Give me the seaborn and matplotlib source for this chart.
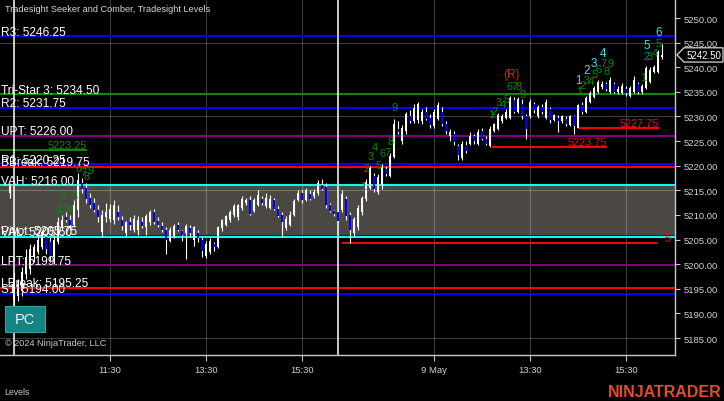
import matplotlib
matplotlib.use("Agg")
import matplotlib.pyplot as plt
import matplotlib.patches as mpatches
import matplotlib.transforms as mtransforms
import numpy as np
import pandas as pd
import seaborn as sns

# ---------------- data ----------------
first_bar = 2  # 5-minute bars, index 3 = 09:30 day 1, index 84 = 09:30 day 2
opens = [5214.5, 5192.75, 5193.5, 5194.5, 5198.0, 5199.0, 5201.5, 5202.5, 5203.5, 5205.5,
         5204.5, 5201.5, 5204.5, 5207.5, 5209.5, 5209.0, 5208.0, 5211.0, 5216.5, 5215.5,
         5213.5, 5212.5, 5211.0, 5206.5, 5209.5, 5209.25, 5209.0, 5210.5, 5209.0, 5206.25,
         5208.5, 5207.0, 5207.0, 5208.5, 5207.5, 5208.5, 5210.5, 5208.75, 5207.75, 5207.0,
         5204.75, 5205.5, 5208.0, 5206.75, 5206.25, 5207.25, 5205.0, 5206.25, 5205.0, 5201.75,
         5202.5, 5204.0, 5203.5, 5207.25, 5208.0, 5209.0, 5210.0, 5209.5, 5211.5, 5212.5,
         5213.0, 5210.75, 5212.0, 5213.25, 5211.75, 5211.5, 5213.0, 5211.25, 5210.0, 5207.25,
         5208.0, 5210.0, 5213.0, 5214.5, 5213.0, 5214.25, 5213.75, 5214.5, 5216.0, 5215.75,
         5212.0, 5210.75, 5210.5, 5211.0, 5213.25, 5210.0, 5206.25, 5207.5, 5210.5, 5213.25,
         5215.5, 5218.0, 5214.75, 5216.0, 5219.25, 5218.0, 5221.75, 5227.5, 5225.0, 5227.0,
         5230.0, 5229.0, 5229.25, 5229.0, 5231.0, 5229.75, 5228.0, 5229.5, 5231.0, 5228.5,
         5226.0, 5226.5, 5224.0, 5221.5, 5224.25, 5224.5, 5226.0, 5224.5, 5227.0, 5225.5,
         5224.0, 5227.0, 5227.5, 5229.0, 5229.75, 5229.75, 5233.25, 5231.0, 5232.5, 5230.0,
         5230.0, 5232.5, 5230.0, 5232.0, 5229.75, 5231.5, 5229.25, 5229.75, 5229.0, 5229.5,
         5228.25, 5230.0, 5227.75, 5232.25, 5231.0, 5233.0, 5234.0, 5235.0, 5236.0, 5236.5,
         5235.0, 5236.5, 5235.0, 5234.75, 5235.5, 5234.25, 5235.0, 5236.5, 5235.0, 5235.75,
         5237.0, 5239.0, 5239.0, 5242.0]
highs = [5216.5, 5198.5, 5197.0, 5199.5, 5203.0, 5204.0, 5204.0, 5206.0, 5207.0, 5206.0,
         5205.5, 5206.0, 5209.5, 5210.0, 5210.5, 5210.0, 5213.0, 5218.5, 5217.5, 5216.5,
         5214.5, 5213.5, 5212.0, 5211.0, 5212.5, 5212.25, 5213.0, 5212.0, 5209.75, 5208.75,
         5209.5, 5210.0, 5209.75, 5209.5, 5210.25, 5211.0, 5211.25, 5209.5, 5208.5, 5207.5,
         5207.5, 5208.25, 5208.5, 5207.0, 5208.25, 5208.0, 5207.75, 5207.0, 5205.5, 5204.75,
         5205.25, 5204.5, 5207.75, 5209.25, 5210.0, 5211.0, 5212.25, 5212.25, 5213.75, 5213.5,
         5213.75, 5213.5, 5215.0, 5213.75, 5214.5, 5214.0, 5213.5, 5211.75, 5210.5, 5209.75,
         5210.75, 5213.25, 5215.0, 5215.0, 5215.5, 5215.0, 5215.25, 5217.0, 5217.25, 5216.5,
         5212.5, 5211.0, 5211.0, 5215.0, 5213.75, 5210.5, 5209.5, 5212.0, 5213.75, 5217.25,
         5220.0, 5218.5, 5218.25, 5220.25, 5220.0, 5222.5, 5229.5, 5229.0, 5228.25, 5231.0,
         5231.25, 5232.5, 5233.0, 5231.5, 5232.0, 5230.5, 5231.5, 5233.0, 5232.0, 5229.0,
         5227.5, 5227.0, 5224.5, 5225.0, 5225.0, 5226.75, 5226.5, 5227.5, 5227.75, 5226.0,
         5228.0, 5228.75, 5230.75, 5230.5, 5231.5, 5234.25, 5234.0, 5234.0, 5233.5, 5230.5,
         5233.5, 5233.0, 5232.25, 5232.5, 5233.5, 5232.0, 5230.5, 5230.25, 5230.25, 5230.0,
         5230.25, 5230.25, 5232.5, 5233.0, 5234.25, 5235.25, 5236.25, 5237.5, 5237.25, 5237.0,
         5238.0, 5237.0, 5236.25, 5236.75, 5236.25, 5236.25, 5238.25, 5237.0, 5236.5, 5240.25,
         5240.0, 5240.5, 5243.5, 5244.75]
lows = [5213.5, 5191.5, 5192.5, 5193.5, 5197.0, 5198.0, 5200.5, 5202.0, 5203.0, 5202.0,
        5200.5, 5200.0, 5204.0, 5207.0, 5208.5, 5207.0, 5207.5, 5209.5, 5214.5, 5212.5,
        5211.5, 5210.5, 5208.5, 5205.5, 5208.5, 5208.5, 5208.25, 5209.0, 5207.0, 5205.75,
        5207.0, 5206.5, 5206.0, 5207.25, 5206.0, 5208.0, 5208.25, 5207.5, 5206.5, 5202.0,
        5204.5, 5205.25, 5206.75, 5204.75, 5201.0, 5205.5, 5203.75, 5204.5, 5201.5, 5201.25,
        5202.0, 5202.75, 5203.25, 5206.75, 5207.75, 5208.5, 5209.5, 5209.0, 5211.0, 5212.0,
        5210.0, 5210.5, 5211.75, 5212.0, 5211.5, 5211.25, 5211.0, 5209.5, 5205.5, 5207.0,
        5207.75, 5209.75, 5212.75, 5212.5, 5212.75, 5213.0, 5213.5, 5214.0, 5215.0, 5211.5,
        5210.5, 5209.75, 5208.5, 5210.5, 5209.0, 5204.25, 5205.5, 5207.0, 5210.0, 5212.75,
        5215.25, 5214.75, 5214.25, 5215.25, 5218.0, 5217.75, 5221.5, 5226.5, 5224.5, 5226.5,
        5228.75, 5228.75, 5228.75, 5228.5, 5229.25, 5227.75, 5227.75, 5229.25, 5228.0, 5226.5,
        5225.0, 5224.25, 5221.25, 5221.25, 5222.5, 5224.25, 5224.5, 5224.25, 5225.25, 5224.25,
        5223.75, 5226.75, 5227.25, 5228.75, 5229.5, 5229.5, 5230.75, 5230.75, 5229.5, 5225.5,
        5229.75, 5230.75, 5229.75, 5230.5, 5229.5, 5228.75, 5229.0, 5226.75, 5228.75, 5228.0,
        5228.0, 5226.5, 5227.75, 5230.5, 5230.75, 5232.75, 5233.75, 5234.75, 5235.5, 5235.25,
        5234.75, 5234.75, 5234.5, 5234.5, 5234.25, 5234.0, 5234.75, 5234.5, 5234.5, 5235.5,
        5236.75, 5238.75, 5238.75, 5241.75]
closes = [5216.0, 5197.0, 5196.0, 5198.5, 5201.5, 5203.0, 5203.5, 5205.0, 5206.5, 5203.0,
          5201.5, 5205.0, 5208.5, 5209.0, 5209.0, 5208.0, 5212.0, 5217.0, 5215.25, 5213.25,
          5212.0, 5211.0, 5209.5, 5210.0, 5210.5, 5211.25, 5212.0, 5209.5, 5207.75, 5208.5,
          5208.0, 5209.25, 5209.0, 5207.75, 5209.75, 5210.5, 5208.5, 5208.0, 5207.0, 5205.0,
          5207.0, 5207.75, 5207.0, 5206.0, 5207.75, 5206.25, 5207.5, 5205.25, 5202.75, 5204.0,
          5204.75, 5203.5, 5207.5, 5209.0, 5209.75, 5210.5, 5211.75, 5212.0, 5213.25, 5213.0,
          5210.25, 5213.0, 5214.0, 5212.5, 5213.5, 5213.25, 5211.25, 5209.75, 5208.5, 5209.25,
          5210.0, 5212.75, 5214.5, 5213.0, 5215.0, 5213.25, 5214.75, 5216.5, 5215.25, 5212.0,
          5210.75, 5210.25, 5208.75, 5214.25, 5209.75, 5207.0, 5209.25, 5211.5, 5213.5, 5216.75,
          5219.5, 5215.25, 5217.75, 5219.75, 5218.25, 5222.0, 5228.5, 5226.75, 5227.75, 5230.5,
          5229.0, 5231.75, 5232.5, 5231.0, 5229.5, 5228.25, 5231.0, 5232.25, 5228.5, 5227.0,
          5226.75, 5224.75, 5222.25, 5224.5, 5223.0, 5226.0, 5225.0, 5226.75, 5225.5, 5224.5,
          5227.5, 5228.5, 5230.25, 5230.0, 5231.0, 5233.75, 5231.0, 5233.5, 5230.0, 5227.5,
          5233.0, 5231.25, 5232.0, 5231.0, 5233.0, 5229.25, 5230.25, 5229.0, 5230.0, 5228.5,
          5230.0, 5228.0, 5232.25, 5231.0, 5233.75, 5234.75, 5235.75, 5237.0, 5236.5, 5235.5,
          5237.5, 5235.0, 5235.5, 5236.25, 5234.75, 5235.75, 5237.5, 5235.0, 5236.25, 5239.75,
          5239.5, 5240.0, 5243.0, 5242.5]
last_price = 5242.50

session_start_bars = [3, 84]
xtick_bars = [27, 51, 75, 108, 132, 156]
xtick_labels = ["11:30", "13:30", "15:30", "9 May", "13:30", "15:30"]
ytick_values = list(range(5185, 5251, 5))
grid_prices = [5185, 5200, 5215, 5230, 5245]

level_names = ["R3", "Tri-Star 3", "R2", "UPT", "R1", "BBreak", "VAH",
               "Pivot", "VAL", "LPT", "LBreak", "S1"]
level_values = [5246.25, 5234.50, 5231.75, 5226.00, 5220.25, 5219.75, 5216.00,
                5205.75, 5205.50, 5199.75, 5195.25, 5194.00]
value_area_low = 5205.50
value_area_high = 5216.00

# short levels drawn from a start bar to an end bar
seg_prices = [5223.25, 5223.75, 5227.75, 5204.25]
seg_start_bars = [-0.5, 122.4, 144.25, 85.0]
seg_end_bars = [21.25, 151.25, 164.25, 163.75]
seg_labels = ["5223.25", "5223.75", "5227.75", ""]

# Seeker / Comber counts (text, bar, price)
green_text = list("123456789") + list("123456789") + list("123456789") + list("123456789") + list("12345")
green_bars = [14.25, 15.0, 16.0, 17.0, 18.25, 19.25, 20.25, 21.25, 22.25,
              90.25, 91.25, 92.25, 93.25, 94.25, 95.25, 96.25, 97.25, 98.25,
              122.25, 123.25, 124.25, 125.25, 126.25, 127.0, 128.0, 129.25, 130.25,
              144.25, 145.25, 146.25, 147.25, 148.25, 149.25, 150.25, 151.25, 152.25,
              160.25, 161.25, 162.0, 163.25, 164.25]
green_prices = [5211.2, 5213.8, 5211.4, 5211.2, 5213.8, 5219.5, 5218.7, 5217.9, 5219.1,
                5215.9, 5219.5, 5222.0, 5223.8, 5220.1, 5222.6, 5222.8, 5225.0, 5231.9,
                5230.6, 5231.1, 5232.9, 5232.5, 5233.5, 5236.2, 5236.2, 5236.1, 5234.6,
                5235.2, 5236.4, 5237.4, 5237.2, 5238.6, 5239.6, 5240.9, 5239.2, 5240.9,
                5238.0, 5242.3, 5242.3, 5242.9, 5244.9]
cyan_text = list("123456")
cyan_bars = [144.0, 146.25, 148.0, 150.25, 161.25, 164.25]
cyan_prices = [5237.4, 5239.4, 5240.9, 5242.9, 5244.5, 5247.2]
reversal_text = "(R)"
reversal_bar = 127.25
reversal_price = 5238.6

# ---------------- style ----------------
W, H = 724, 402
BLUE = "#0000ff"
GREEN = "#0a8a0a"
PURPLE = "#800080"
RED = "#ff0000"
CYAN = "#00ffff"
level_colors = [BLUE, GREEN, BLUE, PURPLE, BLUE, RED, CYAN, BLUE, CYAN, PURPLE, RED, BLUE]
seg_colors = [GREEN, RED, RED, RED]
AXIS_TXT = "#cfd3d6"

sns.set_theme(style="dark", rc={"axes.facecolor": "black", "figure.facecolor": "black",
                                "savefig.facecolor": "black"})
plt.rcParams["font.family"] = ["Liberation Sans", "DejaVu Sans"]

fig = plt.figure(figsize=(W / 100, H / 100), dpi=100)
ax = fig.add_axes([0, 1 - 356 / H, 675 / W, 356 / H])
ax.set_facecolor("black")

bars = pd.DataFrame({"bar": np.arange(first_bar, first_bar + len(opens)),
                     "open": opens, "high": highs, "low": lows, "close": closes})
up = bars["close"] >= bars["open"]

# value area
ax.axhspan(value_area_low, value_area_high, color="#4b4843", lw=0, zorder=0.5)

# grid
for gp in grid_prices:
    ax.axhline(gp, color="white", alpha=0.24, lw=0.8, zorder=1)
for xb in xtick_bars:
    ax.axvline(xb, color="white", alpha=0.24, lw=0.8, zorder=1)

# full-width levels through seaborn
xmin, xmax = -0.5, 168.25
lv = pd.DataFrame({"name": np.repeat(level_names, 2),
                   "bar": [xmin, xmax] * len(level_names),
                   "price": np.repeat(level_values, 2)})
sns.lineplot(data=lv, x="bar", y="price", hue="name", units="name", estimator=None,
             palette=dict(zip(level_names, level_colors)), legend=False, lw=1.5,
             sort=False, ax=ax, zorder=2)

for p, s, e, lab, c in zip(seg_prices, seg_start_bars, seg_end_bars, seg_labels, seg_colors):
    ax.plot([s, e], [p, p], color=c, lw=1.4, zorder=2.2, solid_capstyle="butt")
    if lab:
        ax.annotate(lab, xy=(e, p), xytext=(0, 1.3), textcoords="offset points",
                    ha="right", va="baseline", color=c, fontsize=7.8, zorder=6)
ax.annotate("5", xy=(165.6, seg_prices[3]), xytext=(0, 1.8), textcoords="offset points",
            ha="left", va="baseline", color=RED, fontsize=8.2, zorder=6, annotation_clip=False)

# session breaks
for sb in session_start_bars:
    ax.axvline(sb - 0.1, color="white", lw=1.1, zorder=2.5)

# candles
ax.vlines(bars["bar"], bars["low"], bars["high"], color="white", lw=0.8, zorder=3)
body_bottom = np.minimum(bars["open"], bars["close"])
body_h = np.maximum((bars["close"] - bars["open"]).abs(), 0.2)
ax.bar(bars["bar"], body_h, bottom=body_bottom, width=0.72,
       color=np.where(up, "white", BLUE), lw=0, zorder=3.5)

# level labels
for n, v in zip(level_names, level_values):
    ax.annotate(f"{n}: {v:.2f}", xy=(0, v), xycoords=("axes fraction", "data"),
                xytext=(0.6, 1.2), textcoords="offset points", ha="left", va="baseline",
                color="white", fontsize=8.6, zorder=7)

# counts
for t, b, p in zip(green_text, green_bars, green_prices):
    ax.text(b, p, t, color=GREEN, fontsize=7.9, ha="center", va="center", zorder=6)
for t, b, p in zip(cyan_text, cyan_bars, cyan_prices):
    ax.text(b, p, t, color="#3fdde6", fontsize=8.4, ha="center", va="center", zorder=6)
ax.text(reversal_bar, reversal_price, reversal_text, color="#e01515", fontsize=8.4,
        ha="center", va="center", zorder=6)

# axes
ax.set_xlim(xmin, xmax)
ax.set_ylim(5181.55, 5253.86)
ax.grid(False)
ax.set_xlabel("")
ax.set_ylabel("")
ax.set_xticks(xtick_bars)
ax.set_xticklabels(xtick_labels)
ax.yaxis.tick_right()
ax.set_yticks(ytick_values)
ax.set_yticklabels([f"{v:.2f}" for v in ytick_values])
ax.tick_params(axis="x", bottom=True, length=4.5, width=0.8, color="#c8c8c8",
               labelcolor=AXIS_TXT, labelsize=6.8, pad=2.5)
ax.tick_params(axis="y", right=True, left=False, length=3.8, width=0.8, color="#c8c8c8",
               labelcolor=AXIS_TXT, labelsize=6.8, pad=2.6)
for side in ["left", "top"]:
    ax.spines[side].set_visible(False)
for side in ["right", "bottom"]:
    ax.spines[side].set_visible(True)
    ax.spines[side].set_color("#c8c8c8")
    ax.spines[side].set_linewidth(1.0)

# last price marker
bt = mtransforms.blended_transform_factory(fig.transFigure, ax.transData)
hh = 1.45
poly = mpatches.Polygon([(677 / W, last_price), (684 / W, last_price + hh), (723 / W, last_price + hh),
                         (723 / W, last_price - hh), (684 / W, last_price - hh)],
                        closed=True, transform=bt, fc="black", ec="#d8d8d8", lw=0.9,
                        clip_on=False, zorder=10)
fig.add_artist(poly)
fig.text(703.5 / W, last_price, f"{last_price:.2f}", transform=bt, ha="center", va="center",
         color="white", fontsize=7, zorder=11)

# overlay texts
fig.text(5 / W, 1 - 10 / H, "Tradesight Seeker and Comber, Tradesight Levels",
         color="#d8d8d8", fontsize=6.6, ha="left", va="center")
fig.text(5 / W, 1 - 344 / H, "\u00a9 2024 NinjaTrader, LLC", color="#c8c8c8",
         fontsize=6.6, ha="left", va="center")
fig.text(4 / W, 1 - 393 / H, "Levels", color="#c8c8c8", fontsize=6.3, ha="left", va="center")
fig.text(722 / W, 1 - 393 / H, "NINJATRADER", color="#e84a2e", fontsize=11.5,
         fontweight="bold", ha="right", va="center")
fig.add_artist(mpatches.Rectangle((5 / W, 1 - 333 / H), 40 / W, 26 / H, transform=fig.transFigure,
                                  fc="#138383", ec="#3aa0a0", lw=0.8, zorder=12))
fig.text(25 / W, 1 - 320 / H, "PC", color="#eef6f6", fontsize=10.5, ha="center",
         va="center", zorder=13)

fig.savefig("out.png", dpi=100, facecolor="black")
